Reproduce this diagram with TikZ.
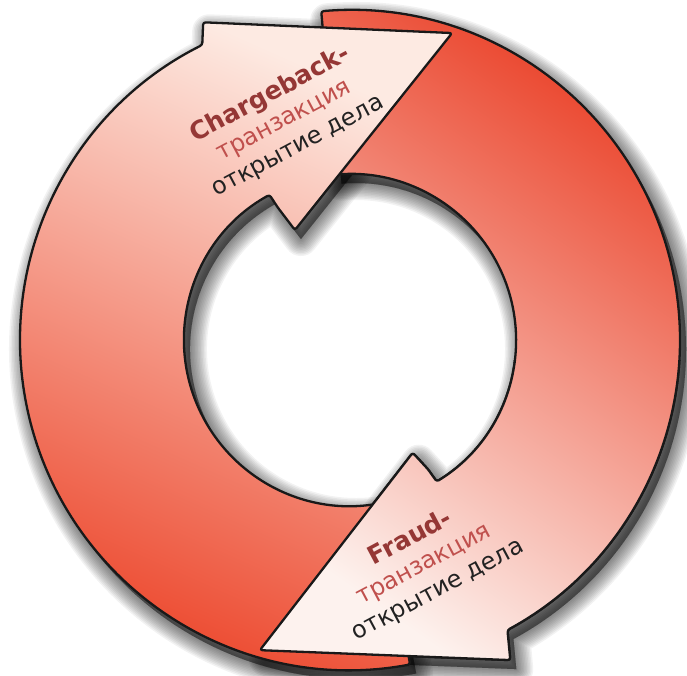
\documentclass[tikz,border=0pt]{standalone}
\usepackage{fontspec}
\setmainfont{DejaVu Sans}
\definecolor{cbLight}{HTML}{FDEAE2}
\definecolor{cbMid}{HTML}{F6A688}
\definecolor{cbDark}{HTML}{EC4429}
\definecolor{frDark}{HTML}{EA4027}
\definecolor{frMid}{HTML}{F08364}
\definecolor{frLight}{HTML}{FDF2EE}
\definecolor{titlered}{HTML}{953735}
\definecolor{subred}{HTML}{C0504D}
\definecolor{bodytext}{HTML}{222222}
\tikzset{
  arrowline/.style={draw=black!90, line width=2.3, line join=round, rounded corners=2.5},
  cbfill/.style={top color=cbLight, middle color=cbMid, bottom color=cbDark, shading angle=-24},
  frfill/.style={top color=frDark, middle color=frMid, bottom color=frLight, shading angle=-35},
  shadowlayer/.style={fill=black, draw=black, line join=round, opacity=0.05, shift={(6,-9)}},
  labeltext/.style={rotate=28, align=center, inner sep=0pt,
    font=\fontsize{24}{29}\selectfont, text=bodytext}
}
\newcommand{\titlestyle}{\fontsize{25}{29}\selectfont\bfseries\color{titlered}}
\newcommand{\substyle}{\color{subred}}
% outlines of the two circular arrows, centre of the ring at the origin
\def\cbpath{(-79.5:330) arc[start angle=-79.5, end angle=-243.4, radius=330]
  -- (114.8:350) -- (71.6:323.5) -- (116.6:123) -- (118.6:151) -- (119:166)
  arc[start angle=119, end angle=280.5, radius=166] -- cycle}
\def\frpath{(95:330) arc[start angle=95, end angle=-61.5, radius=330]
  -- (-63.4:358) -- (-106.2:323) -- (-60.9:129) -- (-58.9:151) -- (-58.5:166)
  arc[start angle=-58.5, end angle=95, radius=166] -- cycle}
\begin{document}
\begin{tikzpicture}[x=1pt,y=1pt]
\useasboundingbox (-350,-335) rectangle (337,340);
\fill[white] (-350,-335) rectangle (337,340);

% soft drop shadows
\foreach \w in {34,31,...,1} {
  \path[shadowlayer, line width=\w] \frpath;
  \path[shadowlayer, line width=\w] \cbpath;
}

% fraud arrow, then chargeback arrow on top of its tail
\path[frfill, arrowline] \frpath;
\path[cbfill, arrowline] \cbpath;
% lower part of the fraud arrow again, so its head lies over the chargeback tail
\begin{scope}
  \clip (-350,-335) rectangle (337,-20);
  \path[frfill, arrowline] \frpath;
\end{scope}

% labels on the two arrowheads
\node[labeltext] (cbtext) at (-66,220)
  {{\titlestyle Chargeback-}\\ {\substyle транзакция}\\ открытие дела};
\node[labeltext] (frtext) at (74,-224)
  {{\titlestyle Fraud-}\\ {\substyle транзакция}\\ открытие дела};
\end{tikzpicture}
\end{document}
